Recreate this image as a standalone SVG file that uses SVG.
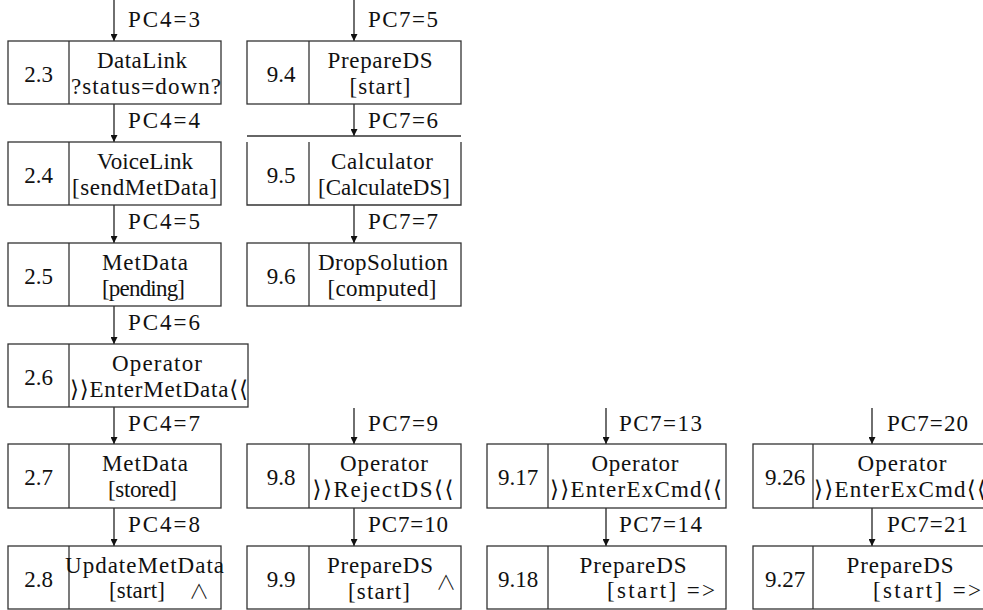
<svg xmlns="http://www.w3.org/2000/svg" width="983" height="610" viewBox="0 0 983 610">
<style>
.b{fill:#fff;stroke:#333;stroke-width:1.3}
.d{stroke:#333;stroke-width:1.3;fill:none}
.c{stroke:#222;stroke-width:1.3;fill:none;marker-end:url(#ah)}
text{font-family:"Liberation Serif","Times New Roman","DejaVu Serif",serif;font-size:23px;fill:#111}
.m{text-anchor:middle}
.w{font-family:"Noto Sans CJK JP","DejaVu Sans",sans-serif;font-size:20px;font-weight:300}
</style>
<defs>
<marker id="ah" viewBox="0 0 10 10" refX="10" refY="5" markerWidth="9" markerHeight="7" markerUnits="userSpaceOnUse" orient="auto">
<path d="M0,0 L10,5 L0,10 z" fill="#111"/>
</marker>
</defs>
<rect width="983" height="610" fill="#fff"/>
<g id="connectors">
<line class="c" x1="114" y1="0" x2="114" y2="41"/>
<line class="c" x1="114" y1="104" x2="114" y2="142"/>
<line class="c" x1="114" y1="205" x2="114" y2="243"/>
<line class="c" x1="114" y1="306" x2="114" y2="344"/>
<line class="c" x1="114" y1="407" x2="114" y2="444"/>
<line class="c" x1="114" y1="508" x2="114" y2="546"/>
<line class="c" x1="354" y1="0" x2="354" y2="41"/>
<line class="c" x1="354" y1="104" x2="354" y2="136"/>
<line class="c" x1="354" y1="205" x2="354" y2="243"/>
<line class="c" x1="354" y1="408" x2="354" y2="444"/>
<line class="c" x1="354" y1="508" x2="354" y2="546"/>
<line class="c" x1="606" y1="408" x2="606" y2="444"/>
<line class="c" x1="606" y1="508" x2="606" y2="546"/>
<line class="c" x1="872" y1="408" x2="872" y2="444"/>
<line class="c" x1="872" y1="508" x2="872" y2="546"/>
<text x="128" y="27" textLength="72">PC4=3</text>
<text x="128" y="128" textLength="72">PC4=4</text>
<text x="128" y="229" textLength="72">PC4=5</text>
<text x="128" y="330" textLength="72">PC4=6</text>
<text x="128" y="431" textLength="72">PC4=7</text>
<text x="128" y="532" textLength="72">PC4=8</text>
<text x="368" y="27" textLength="70">PC7=5</text>
<text x="368" y="128" textLength="70">PC7=6</text>
<text x="368" y="229" textLength="70">PC7=7</text>
<text x="368" y="431" textLength="70">PC7=9</text>
<text x="368" y="532" textLength="80">PC7=10</text>
<text x="619" y="431" textLength="83">PC7=13</text>
<text x="619" y="532" textLength="83">PC7=14</text>
<text x="887" y="431" textLength="81">PC7=20</text>
<text x="887" y="532" textLength="81">PC7=21</text>
</g>
<g id="n2_3">
<rect class="b" x="8" y="41" width="213" height="63"/>
<line class="d" x1="69" y1="41" x2="69" y2="104"/>
<text class="m" x="38.5" y="82">2.3</text>
<text class="m" x="142" y="68" textLength="90">DataLink</text>
<text class="m" x="146" y="94" textLength="150">?status=down?</text>
</g>
<g id="n2_4">
<rect class="b" x="8" y="142" width="213" height="63"/>
<line class="d" x1="69" y1="142" x2="69" y2="205"/>
<text class="m" x="38.5" y="183">2.4</text>
<text class="m" x="145" y="169" textLength="96">VoiceLink</text>
<text class="m" x="144.5" y="195" textLength="145">[sendMetData]</text>
</g>
<g id="n2_5">
<rect class="b" x="8" y="243" width="213" height="63"/>
<line class="d" x1="69" y1="243" x2="69" y2="306"/>
<text class="m" x="38.5" y="284">2.5</text>
<text class="m" x="145" y="270" textLength="86">MetData</text>
<text class="m" x="143.5" y="296" textLength="83">[pending]</text>
</g>
<g id="n2_6">
<rect class="b" x="8" y="344" width="240" height="63"/>
<line class="d" x1="69" y1="344" x2="69" y2="407"/>
<text class="m" x="38.5" y="385">2.6</text>
<text class="m" x="157" y="371" textLength="90">Operator</text>
<text class="m" x="159" y="397" textLength="178">⟩⟩EnterMetData⟨⟨</text>
</g>
<g id="n2_7">
<rect class="b" x="8" y="444" width="213" height="64"/>
<line class="d" x1="69" y1="444" x2="69" y2="508"/>
<text class="m" x="38.5" y="485">2.7</text>
<text class="m" x="145" y="471" textLength="86">MetData</text>
<text class="m" x="142.5" y="497" textLength="69">[stored]</text>
</g>
<g id="n2_8">
<rect class="b" x="8" y="546" width="213" height="63"/>
<line class="d" x1="69" y1="546" x2="69" y2="609"/>
<text class="m" x="38.5" y="587">2.8</text>
<text class="m" x="144.5" y="573" textLength="159">UpdateMetData</text>
<text class="m" x="137" y="598" textLength="56">[start]</text>
<text class="m w" x="199" y="599">∧</text>
</g>
<g id="n9_4">
<rect class="b" x="247" y="41" width="214" height="63"/>
<line class="d" x1="309" y1="41" x2="309" y2="104"/>
<text class="m" x="281" y="82">9.4</text>
<text class="m" x="380" y="68" textLength="105">PrepareDS</text>
<text class="m" x="380" y="94" textLength="61">[start]</text>
</g>
<g id="n9_5">
<line class="d" x1="247" y1="136" x2="461" y2="136"/>
<path class="b" d="M247,142 V205 H461 V142"/>
<line class="d" x1="309" y1="142" x2="309" y2="205"/>
<text class="m" x="281" y="183">9.5</text>
<text class="m" x="382" y="169" textLength="102">Calculator</text>
<text class="m" x="384" y="195" textLength="132">[CalculateDS]</text>
</g>
<g id="n9_6">
<rect class="b" x="247" y="243" width="214" height="63"/>
<line class="d" x1="309" y1="243" x2="309" y2="306"/>
<text class="m" x="281" y="284">9.6</text>
<text class="m" x="383" y="270" textLength="130">DropSolution</text>
<text class="m" x="382" y="296" textLength="109">[computed]</text>
</g>
<g id="n9_8">
<rect class="b" x="247" y="444" width="214" height="64"/>
<line class="d" x1="309" y1="444" x2="309" y2="508"/>
<text class="m" x="281" y="485">9.8</text>
<text class="m" x="384" y="471" textLength="88">Operator</text>
<text class="m" x="383" y="497" textLength="141">⟩⟩RejectDS⟨⟨</text>
</g>
<g id="n9_9">
<rect class="b" x="247" y="546" width="214" height="63"/>
<line class="d" x1="309" y1="546" x2="309" y2="609"/>
<text class="m" x="281" y="587">9.9</text>
<text class="m" x="380" y="573" textLength="106">PrepareDS</text>
<text class="m" x="379" y="599" textLength="62">[start]</text>
<text class="m w" x="446" y="590">∧</text>
</g>
<g id="n9_17">
<rect class="b" x="487" y="444" width="239" height="64"/>
<line class="d" x1="548" y1="444" x2="548" y2="508"/>
<text class="m" x="518" y="485">9.17</text>
<text class="m" x="635" y="471" textLength="87">Operator</text>
<text class="m" x="636" y="497" textLength="172">⟩⟩EnterExCmd⟨⟨</text>
</g>
<g id="n9_18">
<rect class="b" x="487" y="546" width="239" height="63"/>
<line class="d" x1="548" y1="546" x2="548" y2="609"/>
<text class="m" x="518" y="587">9.18</text>
<text class="m" x="633" y="573" textLength="107">PrepareDS</text>
<text x="607" y="598" textLength="108">[start] =&gt;</text>
</g>
<g id="n9_26">
<rect class="b" x="753" y="444" width="240" height="64"/>
<line class="d" x1="813" y1="444" x2="813" y2="508"/>
<text class="m" x="785" y="485">9.26</text>
<text class="m" x="902" y="471" textLength="89">Operator</text>
<text x="814" y="497" textLength="172">⟩⟩EnterExCmd⟨⟨</text>
</g>
<g id="n9_27">
<rect class="b" x="753" y="546" width="240" height="63"/>
<line class="d" x1="813" y1="546" x2="813" y2="609"/>
<text class="m" x="785" y="587">9.27</text>
<text class="m" x="900" y="573" textLength="107">PrepareDS</text>
<text x="873" y="598" textLength="108">[start] =&gt;</text>
</g>
</svg>
